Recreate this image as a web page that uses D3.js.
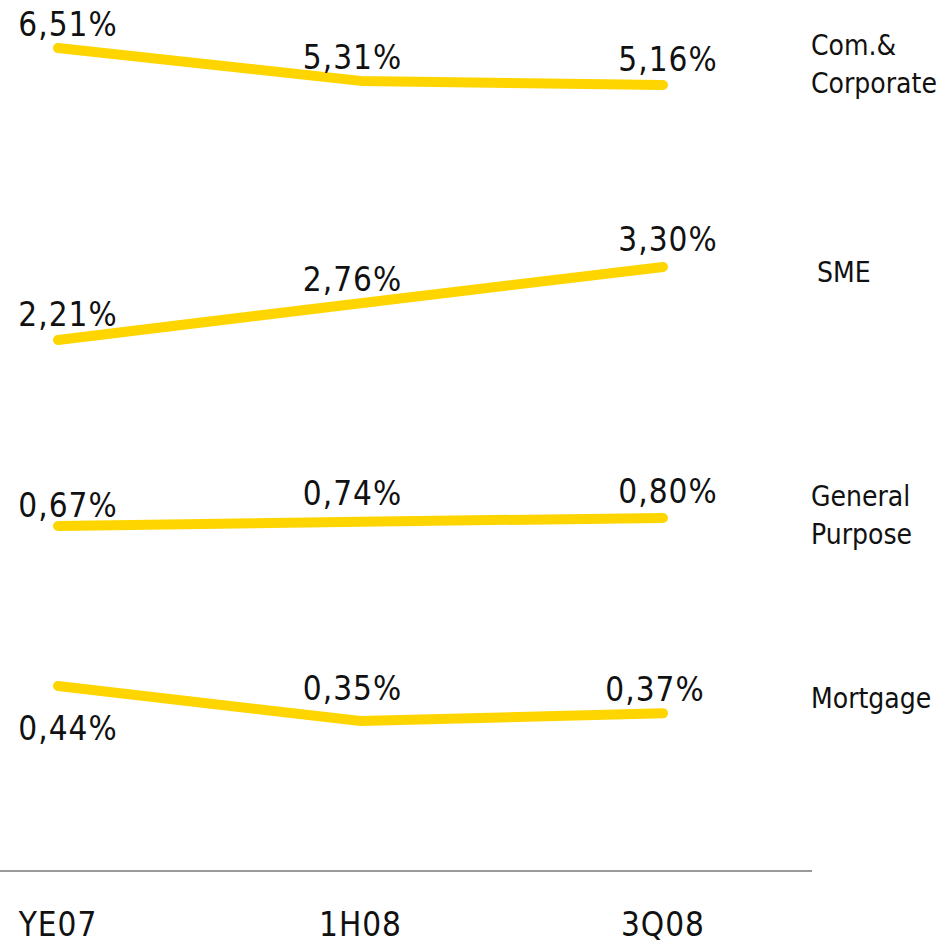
<!DOCTYPE html>
<html lang="en">
<head>
<meta charset="utf-8">
<style>
    body { margin: 0; background: #fff; }
    svg text {
        font-family: "Liberation Sans Narrow", "DejaVu Sans Condensed", "Arial Narrow", sans-serif;
        fill: #111;
    }
    .val { font-size: 33px; letter-spacing: 1px; }
    .cat { font-size: 33px; letter-spacing: 1px; }
    .name { font-size: 28px; letter-spacing: 0px; }
</style>
</head>
<body>
<svg width="951" height="944"></svg>
<script src="https://cdnjs.cloudflare.com/ajax/libs/d3/7.8.5/d3.min.js"></script>
<script>
// data
var periods = ["YE07", "1H08", "3Q08"];
var seriesNames = ["Com.&\nCorporate", "SME", "General\nPurpose", "Mortgage"];
var comCorporate = [6.51, 5.31, 5.16];
var sme = [2.21, 2.76, 3.30];
var generalPurpose = [0.67, 0.74, 0.80];
var mortgage = [0.44, 0.35, 0.37];
var seriesValues = [comCorporate, sme, generalPurpose, mortgage];

// layout: each series sits in its own band (y of its min value, y of its max value)
var bands = [[85, 48], [340, 267], [526, 518], [721, 686]];
var nameY = [55, 282, 506, 708];
// label offsets from the point (negative dy = above)
var labelDx = [[10, -8, 5], [10, -8, 5], [10, -8, 5], [10, -8, -8]];
var labelDy = [[-12, -12, -14], [-14, -12, -16], [-9, -17, -15], [54, -21, -12]];

var svg = d3.select("svg");
var yellow = "#FFD500";

var x = d3.scalePoint().domain(periods).range([58, 663]);

var fmt = function (v) { return d3.format(".2f")(v).replace(".", ",") + "%"; };

seriesValues.forEach(function (vals, si) {
    var y = d3.scaleLinear().domain(d3.extent(vals)).range(bands[si]);
    var pts = vals.map(function (v, i) { return { p: periods[i], v: v }; });

    svg.append("path")
        .datum(pts)
        .attr("fill", "none")
        .attr("stroke", yellow)
        .attr("stroke-width", 10)
        .attr("stroke-linecap", "round")
        .attr("stroke-linejoin", "round")
        .attr("d", d3.line()
            .x(function (d) { return x(d.p); })
            .y(function (d) { return y(d.v); }));

    svg.selectAll(".val-" + si)
        .data(pts)
        .enter()
        .append("text")
        .attr("class", "val val-" + si)
        .attr("text-anchor", "middle")
        .attr("x", function (d, i) { return x(d.p) + labelDx[si][i]; })
        .attr("y", function (d, i) { return y(d.v) + labelDy[si][i]; })
        .text(function (d) { return fmt(d.v); });

    var nx = seriesNames[si] === "SME" ? 817 : 811;
    var name = svg.append("text")
        .attr("class", "name")
        .attr("x", nx)
        .attr("y", nameY[si]);
    seriesNames[si].split("\n").forEach(function (line, li) {
        name.append("tspan")
            .attr("x", nx)
            .attr("dy", li === 0 ? 0 : 38)
            .text(line);
    });
});

// baseline + period labels
svg.append("line")
    .attr("x1", 0).attr("x2", 812)
    .attr("y1", 871).attr("y2", 871)
    .attr("stroke", "#9a9a9a")
    .attr("stroke-width", 2);

svg.selectAll(".cat")
    .data(periods)
    .enter()
    .append("text")
    .attr("class", "cat")
    .attr("text-anchor", "middle")
    .attr("x", function (d) { return x(d); })
    .attr("y", 936)
    .text(function (d) { return d; });
</script>
</body>
</html>
